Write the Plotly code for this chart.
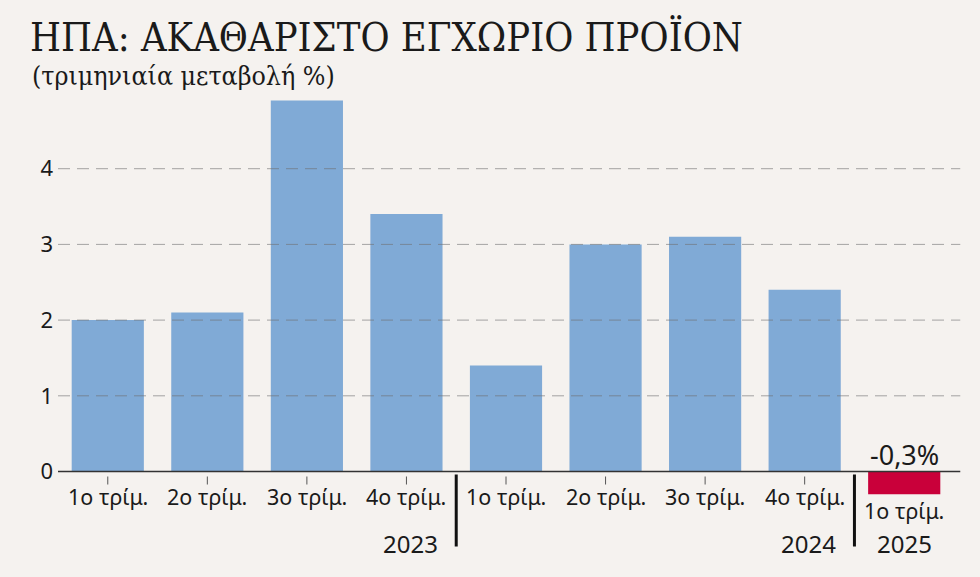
import plotly.graph_objects as go

quarters = ["1ο τρίμ.", "2ο τρίμ.", "3ο τρίμ.", "4ο τρίμ.",
            "1ο τρίμ.", "2ο τρίμ.", "3ο τρίμ.", "4ο τρίμ.",
            "1ο τρίμ."]
years = ["2023", "2024", "2025"]
year_of = [0, 0, 0, 0, 1, 1, 1, 1, 2]
values = [2.0, 2.1, 4.9, 3.4, 1.4, 3.0, 3.1, 2.4, -0.3]
y_ticks = [0, 1, 2, 3, 4]

BG = "#f5f2ef"
BLUE = "#80aad6"
RED = "#c9003a"
FONT = "Noto Sans"
SERIF = "DejaVu Serif Condensed"
Y_MIN, Y_MAX = -0.35, 5.0

x_idx = list(range(len(values)))
colors = [RED if v < 0 else BLUE for v in values]
n = len(values)
zero_paper = (0 - Y_MIN) / (Y_MAX - Y_MIN)

fig = go.Figure()
fig.add_trace(go.Bar(x=x_idx, y=values, marker_color=colors, marker_line_width=0,
                     width=0.725, hoverinfo="skip"))

shapes = []
for t in y_ticks[1:]:
    shapes.append(dict(type="line", xref="paper", yref="y", x0=0, x1=1.007, y0=t, y1=t,
                       line=dict(color="rgba(110,110,110,0.6)", width=1, dash="12px,7px"),
                       layer="above"))
# zero line
shapes.append(dict(type="line", xref="paper", yref="y", x0=0, x1=1.007, y0=0, y1=0,
                   line=dict(color="#333333", width=1.5), layer="above"))

annotations = []
for i, (q, v) in enumerate(zip(quarters, values)):
    neg = v < 0
    annotations.append(dict(x=i, y=0, xref="x", yref="y", text=q, showarrow=False,
                            yanchor="top", yshift=-22 if neg else -8,
                            font=dict(family=FONT, size=21.5, color="#1a1a1a")))
    if not neg:
        shapes.append(dict(type="line", xref="x", yref="y", x0=i, x1=i, ysizemode="pixel",
                           yanchor=0, y0=-5, y1=-13, line=dict(color="#555", width=1)))
    else:
        annotations.append(dict(x=i, y=0, xref="x", yref="y", text=f"{v:.1f}%".replace(".", ","),
                                showarrow=False, yanchor="bottom", yshift=-3,
                                font=dict(family=FONT, size=27, color="#1a1a1a")))

# year labels and separators
for k, yr in enumerate(years):
    idxs = [i for i in range(n) if year_of[i] == k]
    last = idxs[-1]
    if len(idxs) > 1:
        annotations.append(dict(x=last + 0.5, y=0, xref="x", yref="y", text=yr, showarrow=False,
                                xanchor="right", yanchor="top", xshift=-16, yshift=-53,
                                font=dict(family=FONT, size=24, color="#1a1a1a")))
        shapes.append(dict(type="line", xref="x domain", yref="paper",
                           x0=(last + 1) / n, x1=(last + 1) / n,
                           ysizemode="pixel", yanchor=zero_paper, y0=-3, y1=-75,
                           line=dict(color="#111", width=3)))
    else:
        annotations.append(dict(x=last, y=0, xref="x", yref="y", text=yr, showarrow=False,
                                yanchor="top", yshift=-53,
                                font=dict(family=FONT, size=24, color="#1a1a1a")))

annotations.append(dict(x=-0.03125, y=1.042, xref="paper", yref="paper",
                        text="(τριμηνιαία μεταβολή %)", showarrow=False,
                        xanchor="left", yanchor="middle",
                        font=dict(family=SERIF, size=26.5, color="#1a1a1a")))

fig.update_layout(
    width=980, height=577,
    paper_bgcolor=BG, plot_bgcolor=BG,
    margin=dict(l=58, r=26, t=93, b=78.5),
    showlegend=False,
    title=dict(text="ΗΠΑ: ΑΚΑΘΑΡΙΣΤΟ ΕΓΧΩΡΙΟ ΠΡΟΪΟΝ", xref="container", yref="container",
               x=30 / 980, xanchor="left", y=1 - 37 / 577, yanchor="middle",
               font=dict(family=SERIF, size=39.5, color="#1a1a1a")),
    xaxis=dict(range=[-0.5, n - 0.5], showticklabels=False, showgrid=False, zeroline=False,
               showline=False, ticks=""),
    yaxis=dict(range=[Y_MIN, Y_MAX], tickvals=y_ticks, showgrid=False, zeroline=False,
               showline=False, ticks="", ticklabelstandoff=4,
               tickfont=dict(family=FONT, size=22, color="#1a1a1a")),
    shapes=shapes, annotations=annotations,
    bargap=0.275,
)

fig.write_html("out.html")
